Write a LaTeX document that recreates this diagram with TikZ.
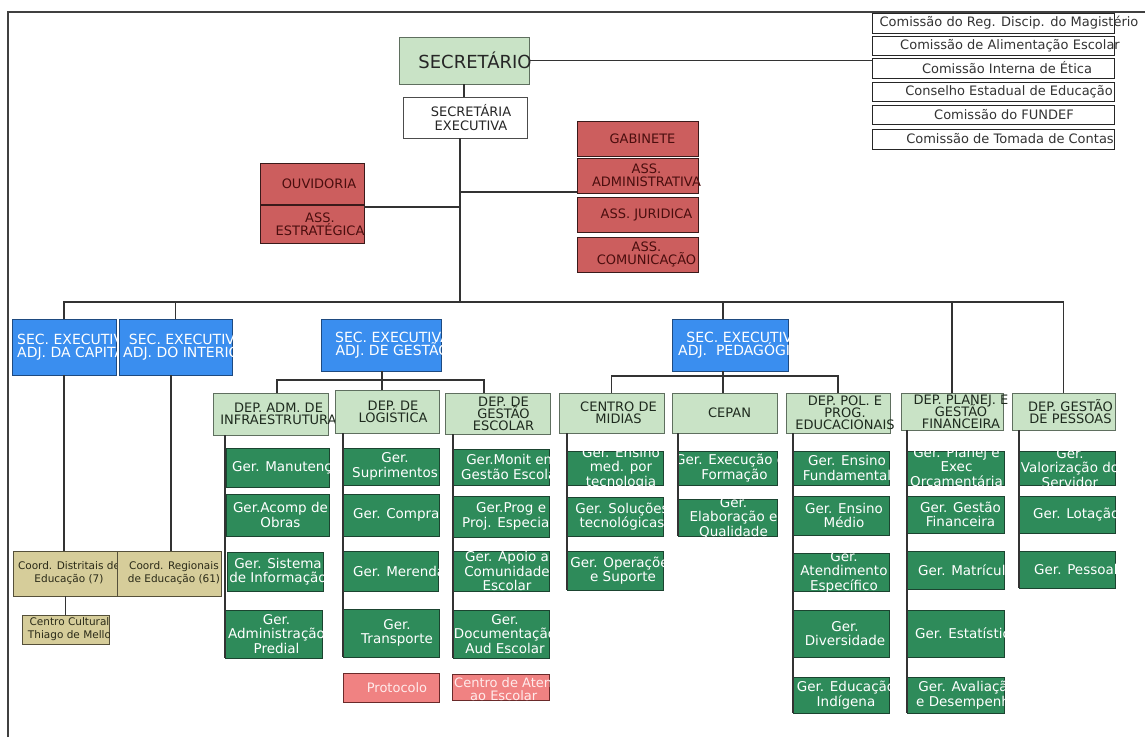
\documentclass[tikz,border=0pt]{standalone}
\usepackage{fontspec}
\setmainfont{DejaVu Sans}
\usetikzlibrary{calc}
\definecolor{cHgr}{HTML}{C9E3C6}
\definecolor{cHbd}{HTML}{5F6F5F}
\definecolor{cHtx}{HTML}{1E2A1E}
\definecolor{cGgr}{HTML}{2E8B5A}
\definecolor{cGbd}{HTML}{1B4430}
\definecolor{cBlu}{HTML}{3A8EEF}
\definecolor{cBbd}{HTML}{1E4A80}
\definecolor{cRed}{HTML}{CC5E5E}
\definecolor{cRbd}{HTML}{3A1A1A}
\definecolor{cRtx}{HTML}{4A0E0E}
\definecolor{cSal}{HTML}{F08282}
\definecolor{cSbd}{HTML}{6A2A2A}
\definecolor{cKhk}{HTML}{D6CD9A}
\definecolor{cKbd}{HTML}{55503A}
\definecolor{cKtx}{HTML}{2A2A18}
\definecolor{cLin}{HTML}{333333}
\newcommand\setfs[2]{\fontsize{#1}{#2}\selectfont\lineskiplimit=-30pt\relax}
\tikzset{
  bxs/.style={rectangle,inner sep=0pt,outer sep=0pt,line width=1pt},
  tx/.style={inner sep=0pt,align=center},
  lp/.style={anchor=west,xshift={(#1-\hw)*1pt}},
  sec/.style={bxs,fill=cHgr,draw=cHbd},
  sec txt/.style={tx,text=black!85,font=\setfs{18}{20}},
  wht/.style={bxs,fill=white,draw=black!70},
  wht txt/.style={tx,text=black!85,font=\setfs{13}{14}},
  com/.style={bxs,fill=white,draw=black!85},
  com txt/.style={tx,text=black!80,font=\setfs{13}{14}},
  rbox/.style={bxs,fill=cRed,draw=cRbd},
  rbox txt/.style={tx,text=cRtx,font=\setfs{13}{13}},
  hdr/.style={bxs,fill=cHgr,draw=cHbd},
  hdr txt/.style={tx,text=cHtx,font=\setfs{13}{12}},
  blu/.style={bxs,fill=cBlu,draw=cBbd},
  blu txt/.style={tx,text=white,font=\setfs{14}{12.5}},
  ger/.style={bxs,fill=cGgr,draw=cGbd},
  ger txt/.style={tx,text=white,font=\setfs{13.5}{14.5}},
  sal/.style={bxs,fill=cSal,draw=cSbd},
  sal txt/.style={tx,text=red!8,font=\setfs{13}{13.5}},
  khk/.style={bxs,fill=cKhk,draw=cKbd},
  khk txt/.style={tx,text=cKtx,font=\setfs{10.5}{13}},
  con/.style={draw=cLin,line width=1.2pt},
  frm/.style={draw=black!75,line width=1.2pt}
}
% clipped box
\newcommand\boxC[8]{%
  \node[#2,minimum width={(#5-#3)*1pt},minimum height={(#6-#4)*1pt}] (#1) at ({(#3+#5)/2},{(#4+#6)/2}) {};
  \pgfmathsetmacro\hw{(#5-#3)/2}%
  \begin{scope}
    \clip (#1.south west) rectangle (#1.north east);
    \node[#2 txt,#7] at (#1.center) {#8};
  \end{scope}}
% vertically clipped box
\newcommand\boxV[8]{%
  \node[#2,minimum width={(#5-#3)*1pt},minimum height={(#6-#4)*1pt}] (#1) at ({(#3+#5)/2},{(#4+#6)/2}) {};
  \pgfmathsetmacro\hw{(#5-#3)/2}%
  \begin{scope}
    \clip ([xshift=-40pt]#1.south west) rectangle ([xshift=40pt]#1.north east);
    \node[#2 txt,#7] at (#1.center) {#8};
  \end{scope}}
% unclipped box
\newcommand\boxN[8]{%
  \node[#2,minimum width={(#5-#3)*1pt},minimum height={(#6-#4)*1pt}] (#1) at ({(#3+#5)/2},{(#4+#6)/2}) {};
  \pgfmathsetmacro\hw{(#5-#3)/2}%
  \node[#2 txt,#7] at (#1.center) {#8};}
\begin{document}
\begin{tikzpicture}[x=1pt,y=-1pt]
\useasboundingbox (0,0) rectangle (1145,737);
\draw[frm] (8,737) -- (8,12) -- (1145,12);

% top level
\boxN{sec}{sec}{399}{37}{529}{84}{xshift=11pt}{SECRETÁRIO}
\boxN{se}{wht}{403}{97}{527}{138}{xshift=6pt}{SECRETÁRIA\\EXECUTIVA}

% commissions
\boxN{com1}{com}{872}{13}{1114}{33}{xshift=16pt}{Comissão do Reg. Discip. do Magistério}
\boxN{com2}{com}{872}{36}{1114}{55}{xshift=17pt}{Comissão de Alimentação Escolar}
\boxN{com3}{com}{872}{58}{1114}{78}{xshift=14pt}{Comissão Interna de Ética}
\boxN{com4}{com}{872}{82}{1114}{101}{xshift=16pt}{Conselho Estadual de Educação}
\boxN{com5}{com}{872}{105}{1114}{124}{xshift=11pt}{Comissão do FUNDEF}
\boxN{com6}{com}{872}{129}{1114}{149}{xshift=17pt}{Comissão de Tomada de Contas}

% advisory
\boxN{ouv}{rbox}{260}{163}{364}{204}{xshift=7pt}{OUVIDORIA}
\boxN{est}{rbox}{260}{205}{364}{243}{xshift=8pt}{ASS.\\ESTRATÉGICA}
\boxN{gab}{rbox}{577}{121}{698}{156}{xshift=5pt}{GABINETE}
\boxN{adm}{rbox}{577}{158}{698}{193}{xshift=9pt}{ASS.\\ADMINISTRATIVA}
\boxN{jur}{rbox}{577}{197}{698}{232}{xshift=9pt}{ASS. JURIDICA}
\boxN{comu}{rbox}{577}{237}{698}{272}{xshift=9pt}{ASS.\\COMUNICAÇÃO}

% executive secretaries
\boxC{cap}{blu}{12}{319}{116}{375}{lp=5}{SEC. EXECUTIVA\\ADJ. DA CAPITAL}
\boxC{int}{blu}{119}{319}{232}{375}{lp=4}{SEC. EXECUTIVA\\ADJ. DO INTERIOR}
\boxC{ges}{blu}{321}{319}{441}{371}{lp=14}{SEC. EXECUTIVA\\ADJ. DE GESTÃO}
\boxC{ped}{blu}{672}{319}{788}{371}{lp=6}{SEC. EXECUTIVA\\ADJ.\ \ PEDAGÓGICA}

% coordinations
\boxC{dist}{khk}{13}{551}{117}{596}{xshift=4pt}{Coord. Distritais de\\Educação (7)}
\boxC{reg}{khk}{117}{551}{221}{596}{xshift=5pt}{Coord. Regionais\\de Educação (61)}
\boxC{ccul}{khk}{22}{615}{109}{644}{xshift=4pt}{Centro Cultural\\Thiago de Mello}

% departments
\boxV{dinf}{hdr}{213}{393}{328}{435}{xshift=8pt}{DEP. ADM. DE\\INFRAESTRUTURA}
\boxV{dlog}{hdr}{335}{390}{439}{433}{xshift=6pt}{DEP. DE\\LOGISTICA}
\boxV{desc}{hdr}{445}{393}{550}{434}{xshift=6pt}{DEP. DE\\GESTÃO\\ESCOLAR}
\boxV{dmid}{hdr}{559}{393}{664}{433}{xshift=7pt}{CENTRO DE\\MIDIAS}
\boxV{dcep}{hdr}{672}{393}{777}{433}{xshift=5pt}{CEPAN}
\boxV{dpol}{hdr}{786}{393}{890}{433}{xshift=7pt}{DEP. POL. E\\PROG.\\EDUCACIONAIS}
\boxV{dpla}{hdr}{901}{393}{1003}{430}{xshift=9pt}{DEP. PLANEJ. E\\GESTÃO\\FINANCEIRA}
\boxV{dpes}{hdr}{1012}{393}{1115}{430}{xshift=7pt}{DEP. GESTÃO\\DE PESSOAS}

% managements
\boxC{gi1}{ger}{226}{448}{329}{487}{lp=6}{Ger. Manutenção}
\boxC{gi2}{ger}{226}{494}{329}{536}{xshift=3pt}{Ger.Acomp de\\Obras}
\boxC{gi3}{ger}{227}{552}{323}{591}{xshift=3pt}{Ger. Sistema\\de Informação}
\boxC{gi4}{ger}{225}{610}{322}{658}{xshift=3pt}{Ger.\\Administração\\Predial}

\boxC{gl1}{ger}{343}{448}{439}{485}{xshift=4pt}{Ger.\\Suprimentos}
\boxC{gl2}{ger}{343}{494}{439}{536}{lp=10}{Ger. Compras}
\boxC{gl3}{ger}{342}{551}{438}{591}{lp=11}{Ger. Merenda}
\boxC{gl4}{ger}{343}{609}{439}{657}{xshift=6pt}{Ger.\\Transporte}
\boxC{prot}{sal}{343}{673}{439}{702}{xshift=6pt}{Protocolo}

\boxC{ge1}{ger}{453}{449}{549}{485}{lp=8}{Ger.Monit em\\Gestão Escolar}
\boxC{ge2}{ger}{453}{496}{549}{537}{lp=9}{Ger.Prog e\\Proj. Especiais}
\boxC{ge3}{ger}{453}{551}{549}{591}{xshift=6pt}{Ger. Apoio a\\Comunidade\\Escolar}
\boxC{ge4}{ger}{453}{610}{549}{658}{xshift=4pt}{Ger.\\Documentação\\Aud Escolar}
\boxC{cat}{sal}{452}{674}{549}{700}{lp=2,align=left,yshift=-2pt}{Centro de Atendimento\\\hspace*{16pt}ao Escolar}

\boxC{gm1}{ger}{567}{451}{663}{485}{xshift=6pt}{Ger. Ensino\\med. por\\tecnologia}
\boxC{gm2}{ger}{567}{497}{663}{536}{xshift=7pt}{Ger. Soluções\\tecnológicas}
\boxC{gm3}{ger}{567}{551}{663}{590}{xshift=8pt}{Ger. Operações\\e Suporte}
\boxC{gc1}{ger}{678}{451}{777}{485}{xshift=7pt}{Ger. Execução da\\Formação}
\boxC{gc2}{ger}{678}{499}{777}{536}{xshift=6pt}{Ger.\\Elaboração e\\Qualidade}

\boxC{gp1}{ger}{793}{451}{889}{485}{xshift=6pt}{Ger. Ensino\\Fundamental}
\boxC{gp2}{ger}{793}{496}{889}{535}{xshift=3pt}{Ger. Ensino\\Médio}
\boxC{gp3}{ger}{793}{553}{889}{591}{xshift=3pt}{Ger.\\Atendimento\\Específico}
\boxC{gp4}{ger}{793}{610}{889}{657}{xshift=4pt}{Ger.\\Diversidade}
\boxC{gp5}{ger}{793}{677}{889}{713}{xshift=5pt}{Ger. Educação\\Indígena}

\boxC{gf1}{ger}{907}{451}{1004}{485}{xshift=1pt}{Ger. Planej e\\Exec\\Orçamentária}
\boxC{gf2}{ger}{907}{496}{1004}{533}{xshift=5pt}{Ger. Gestão\\Financeira}
\boxC{gf3}{ger}{907}{551}{1004}{589}{lp=11}{Ger. Matrícula}
\boxC{gf4}{ger}{907}{610}{1004}{657}{lp=8}{Ger. Estatística}
\boxC{gf5}{ger}{907}{677}{1004}{713}{lp=9}{Ger. Avaliação\\e Desempenho}

\boxC{gs1}{ger}{1019}{451}{1115}{485}{xshift=3pt}{Ger.\\Valorização do\\Servidor}
\boxC{gs2}{ger}{1019}{496}{1115}{533}{lp=14}{Ger. Lotação}
\boxC{gs3}{ger}{1019}{551}{1115}{588}{lp=15}{Ger. Pessoal}

% connectors
\coordinate (bj) at (460,302);
\coordinate (t1) at (460,192);
\coordinate (t2) at (460,207);
\coordinate (gj) at (382,380);
\coordinate (pj) at (723,376);
\draw[con] (sec.south) -- (sec.south |- se.north);
\draw[con] (sec.east) -- (sec.east -| com3.west);
\draw[con] (se.south -| bj) -- (bj);
\draw[con] (t1) -- (t1 -| adm.west);
\draw[con] (t2) -- (t2 -| est.east);
\draw[con] (cap.north) |- (dpes.north |- bj) -- (dpes.north);
\draw[con] (int.north) -- (int.north |- bj);
\draw[con] ([xshift=-7pt]ped.north) -- ([xshift=-7pt]ped.north |- bj);
\draw[con] (dpla.north) -- (dpla.north |- bj);
\draw[con] (ges.south -| gj) -- (gj);
\draw[con] ([xshift=6.5pt]dinf.north) |- (gj) -| ([xshift=-13.5pt]desc.north);
\draw[con] (dlog.north -| gj) -- (gj);
\draw[con] (ped.south -| pj) -- (pj);
\draw[con] (dmid.north) |- (pj) -| (dpol.north);
\draw[con] (pj) -- (dcep.north -| pj);
\draw[con] (cap.south) -- (cap.south |- dist.north);
\draw[con] ([xshift=2pt]reg.north) -- ([xshift=2pt]reg.north |- int.south);
\draw[con] (ccul.north) -- (ccul.north |- dist.south);
\draw[con] (dinf.south -| gi4.west) -- (gi4.south west);
\draw[con] (dlog.south -| gl4.west) -- (gl4.south west);
\draw[con] (desc.south -| ge4.west) -- (ge4.south west);
\draw[con] (dmid.south -| gm3.west) -- (gm3.south west);
\draw[con] (dcep.south -| gc2.west) -- (gc2.south west);
\draw[con] (dpol.south -| gp5.west) -- (gp5.south west);
\draw[con] (dpla.south -| gf5.west) -- (gf5.south west);
\draw[con] (dpes.south -| gs3.west) -- (gs3.south west);
\end{tikzpicture}
\end{document}
